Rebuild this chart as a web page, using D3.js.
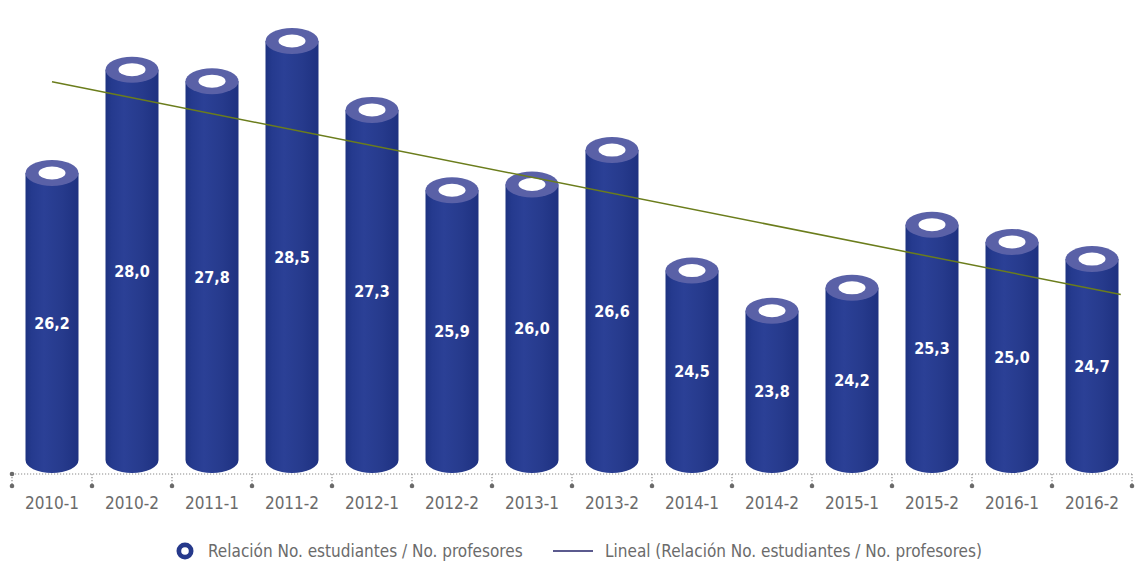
<!DOCTYPE html>
<html>
<head>
<meta charset="utf-8">
<script src="https://cdn.jsdelivr.net/npm/d3@7/dist/d3.min.js"></script>
<style>
  html, body { margin: 0; padding: 0; background: #fff; }
  svg { display: block; }
  text { font-family: "Liberation Sans Narrow", "DejaVu Sans Condensed", "Roboto Condensed", sans-serif; }
</style>
</head>
<body>
<svg id="chart" width="1135" height="561"></svg>
<script>
const categories = ["2010-1","2010-2","2011-1","2011-2","2012-1","2012-2","2013-1","2013-2","2014-1","2014-2","2015-1","2015-2","2016-1","2016-2"];
const values = [26.2, 28.0, 27.8, 28.5, 27.3, 25.9, 26.0, 26.6, 24.5, 23.8, 24.2, 25.3, 25.0, 24.7];
const seriesName = "Relación No. estudiantes / No. profesores";
const trendName = "Lineal (Relación No. estudiantes / No. profesores)";

const svg = d3.select("#chart");
const W = 1135, H = 561;
const axisY = 474;
const rx = 26.5, ry = 13;

const x = d3.scaleBand().domain(categories).range([12, 1132]).paddingInner(0.3375).paddingOuter(0.16875);
const y = d3.scaleLinear().domain([21.2, 28.5]).range([460, 41]);
const base = y.domain()[0];

const defs = svg.append("defs");
const g1 = defs.append("linearGradient").attr("id", "body").attr("x1", "0").attr("x2", "1").attr("y1", "0").attr("y2", "0");
[[0, "#1d3280"], [0.12, "#253a8e"], [0.35, "#2b4096"], [0.7, "#263a8c"], [1, "#1e3180"]].forEach(([o, c]) =>
  g1.append("stop").attr("offset", o).attr("stop-color", c));

// axis line (dotted)
svg.append("line").attr("x1", 12).attr("x2", 1132).attr("y1", axisY).attr("y2", axisY)
  .attr("stroke", "#8a8a8a").attr("stroke-width", 1.2).attr("stroke-dasharray", "1.2,1.8");
const tickXs = d3.range(categories.length + 1).map(i => x.range()[0] + i * x.step());
svg.selectAll(".tk").data(tickXs).enter().append("line")
  .attr("x1", d => d).attr("x2", d => d).attr("y1", axisY).attr("y2", axisY + 12)
  .attr("stroke", "#8a8a8a").attr("stroke-width", 1.2).attr("stroke-dasharray", "1.2,1.8");
svg.selectAll(".td").data(tickXs).enter().append("circle")
  .attr("cx", d => d).attr("cy", axisY + 12).attr("r", 2.3).attr("fill", "#6a6a6a");
svg.append("circle").attr("cx", tickXs[0]).attr("cy", axisY).attr("r", 2.3).attr("fill", "#6a6a6a");

// tick labels
svg.selectAll(".cl").data(categories).enter().append("text")
  .attr("x", d => x(d) + x.bandwidth() / 2).attr("y", 509)
  .attr("text-anchor", "middle").attr("font-size", 17).attr("fill", "#6b6b6b").text(d => d);

// cylinders
const data = categories.map((c, i) => ({ c, v: values[i] }));
const cyl = svg.selectAll(".cyl").data(data).enter().append("g");
cyl.append("path").attr("d", d => {
  const cx = x(d.c) + x.bandwidth() / 2;
  const t = y(d.v), b = y(base);
  return `M${cx - rx},${t} L${cx - rx},${b} A${rx},${ry} 0 0 0 ${cx + rx},${b} L${cx + rx},${t} Z`;
}).attr("fill", "url(#body)");
cyl.append("ellipse").attr("cx", d => x(d.c) + x.bandwidth() / 2).attr("cy", d => y(d.v))
  .attr("rx", rx).attr("ry", ry).attr("fill", "#5a61a7");
cyl.append("ellipse").attr("cx", d => x(d.c) + x.bandwidth() / 2).attr("cy", d => y(d.v))
  .attr("rx", 13.5).attr("ry", 6.5).attr("fill", "#ffffff");

// trend line (least squares)
const n = values.length;
const xs = d3.range(n);
const mx = d3.mean(xs), my = d3.mean(values);
const slope = d3.sum(xs, i => (i - mx) * (values[i] - my)) / d3.sum(xs, i => (i - mx) ** 2);
const icpt = my - slope * mx;
const idxToX = i => x(categories[0]) + x.bandwidth() / 2 + i * x.step();
const tEnd = (n - 1) + 0.36;
svg.append("line")
  .attr("x1", idxToX(0)).attr("y1", y(icpt))
  .attr("x2", idxToX(tEnd)).attr("y2", y(icpt + slope * tEnd))
  .attr("stroke", "#6b7d1c").attr("stroke-width", 1.5);

// value labels
cyl.append("text").attr("x", d => x(d.c) + x.bandwidth() / 2)
  .attr("y", d => (y(d.v) + y(base) + ry) / 2)
  .attr("dy", "0.35em").attr("text-anchor", "middle").attr("font-size", 16).attr("font-weight", "bold")
  .attr("fill", "#ffffff").text(d => d3.format(".1f")(d.v).replace(".", ","));

// legend
const ly = 551;
svg.append("circle").attr("cx", 185).attr("cy", ly).attr("r", 8.5).attr("fill", "#26398b");
svg.append("circle").attr("cx", 185).attr("cy", ly).attr("r", 3.8).attr("fill", "#fff");
svg.append("text").attr("x", 208).attr("y", ly).attr("dy", "0.35em").attr("font-size", 17).attr("fill", "#6b6b6b").text(seriesName);
svg.append("line").attr("x1", 553).attr("x2", 593).attr("y1", ly).attr("y2", ly).attr("stroke", "#5b5a8e").attr("stroke-width", 1.8);
svg.append("text").attr("x", 605).attr("y", ly).attr("dy", "0.35em").attr("font-size", 17).attr("fill", "#6b6b6b").text(trendName);
</script>
</body>
</html>
